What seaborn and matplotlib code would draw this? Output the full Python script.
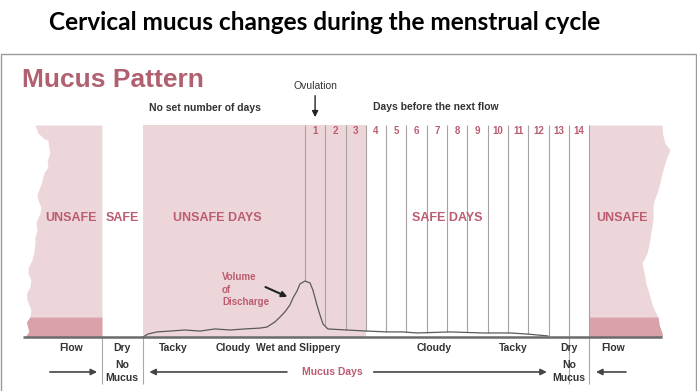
import numpy as np
import pandas as pd
import matplotlib.pyplot as plt
import seaborn as sns

sns.set_style("white")
plt.rcParams['font.family'] = ['Liberation Sans', 'DejaVu Sans']

# x axis: days counted from ovulation (day column k spans k-1..k)
# y axis: volume of discharge, 0 = baseline, 100 = top of chart
days = list(range(1, 15))

curve_day = [-7.98, -7.73, -7.29, -6.65, -5.91, -5.17, -4.43, -3.69, -2.96, -2.22,
             -1.87, -1.48, -1.23, -0.99, -0.74, -0.59, -0.39, -0.25, 0.0, 0.25,
             0.39, 0.59, 0.74, 0.89, 1.13, 2.07, 3.05, 4.04, 4.83, 5.52,
             7.14, 8.77, 10.1, 10.94, 11.97]
curve_vol = [0, 1.4, 2.4, 2.8, 3.3, 2.8, 3.8, 3.3, 3.8, 4.2,
             4.7, 7.1, 9.4, 11.8, 15.1, 18.4, 21.7, 25.0, 26.4, 25.5,
             22.2, 15.1, 10.4, 6.1, 3.8, 3.3, 2.8, 2.4, 2.4, 1.9,
             2.4, 1.9, 1.9, 1.4, 0.5]

phase_labels = ["Flow", "Dry", "Tacky", "Cloudy", "Wet and Slippery",
                "Cloudy", "Tacky", "Dry", "Flow"]
phase_pos = [-11.5, -9.0, -6.5, -3.55, -0.35, 6.35, 10.25, 13.0, 15.2]

zone_labels = ["UNSAFE", "SAFE", "UNSAFE DAYS", "SAFE DAYS", "UNSAFE"]
zone_pos = [-11.5, -9.0, -4.3, 7.0, 15.6]

flow_end, dry_end, unsafe_end, safe_end = -10, -8, 3, 14

# torn paper edges of the flow blocks
edge_vol = [100, 97.5, 96.2, 93.5, 92.9, 89.5, 86.8, 83.0, 80.2, 77.5, 75.5, 72.5, 70.8,
            67.0, 64.6, 61.0, 58.5, 54.0, 50.5, 47.0, 44.3, 40.0, 36.3, 33.0, 30.2,
            27.0, 23.6, 20.5, 17.5, 13.0, 9.4, 7.0, 4.7, 2.5, 0]
left_edge = [-13.3, -13.2, -13.15, -12.85, -12.66, -12.62, -12.56, -12.7, -12.66, -12.85, -12.91, -12.98, -13.05,
             -13.2, -13.15, -13.0, -13.05, -13.25, -13.2, -13.3, -13.3, -13.35, -13.45, -13.62, -13.65,
             -13.5, -13.55, -13.72, -13.69, -13.5, -13.55, -13.72, -13.65, -13.6, -13.79]
right_vol = [100, 95.5, 91.5, 88.2, 84.9, 81.0, 77.4, 72.5, 67.9, 64.5, 61.3, 56.5, 51.9,
             48.5, 45.8, 42.5, 39.6, 37.0, 34.9, 31.5, 28.3, 25.0, 22.2, 18.0, 14.2, 9.4, 5.5, 1.9, 0]
right_edge = [17.59, 17.62, 17.73, 17.98, 17.83, 17.7, 17.59, 17.48, 17.34, 17.2, 17.14, 17.15, 17.09,
              17.02, 16.99, 16.92, 16.85, 16.72, 16.6, 16.68, 16.75, 16.8, 16.9, 17.02, 17.14, 17.39, 17.45, 17.59, 17.6]
band_top = 9.4

pink = '#edd6d9'
band = '#d9a2ab'
rose = '#bb5c70'
ink = '#333333'

df = pd.DataFrame({'day': curve_day, 'volume': curve_vol})

fig = plt.figure(figsize=(6.97, 3.91), dpi=100)
ax = fig.add_axes([0, 0, 1, 1])
ax.set_xlim(-15.02, 19.31)
ax.set_ylim(-25.47, 158.96)
ax.axis('off')

# frame
ax.add_patch(plt.Rectangle((0.001, -0.2), 0.9975, 1.062, transform=ax.transAxes,
                           fill=False, ec='#9a9a9a', lw=1))

# pink blocks
ax.fill_betweenx(edge_vol, left_edge, flow_end, color=pink, lw=0)
ax.fill_betweenx(right_vol, safe_end, right_edge, color=pink, lw=0)
ax.fill_between([dry_end, unsafe_end], 0, 100, color=pink, lw=0)
lv = np.array(edge_vol)
m = lv <= band_top + 0.01
ax.fill_betweenx(lv[m], np.array(left_edge)[m], flow_end, color=band, lw=0)
rv = np.array(right_vol)
m = rv <= band_top + 0.01
ax.fill_betweenx(rv[m], safe_end, np.array(right_edge)[m], color=band, lw=0)

# day column lines, from the curve up to the top
bounds = np.arange(0, 15)
ax.vlines(bounds, np.interp(bounds, curve_day, curve_vol), 100, color='#a8a2a3', lw=0.8)
# lines below the baseline
ax.vlines([flow_end, dry_end, 13, safe_end], -22, 0, color='#a8a8a8', lw=0.8)

# mucus curve and baseline
sns.lineplot(data=df, x='day', y='volume', ax=ax, color='#5a5a5a', lw=0.9,
             sort=False, estimator=None)
ax.hlines(0, -13.9, 17.6, color='#6b6b6b', lw=1.8)

# day numbers
for d in days:
    ax.text(d - 0.5, 97.2, str(d), ha='center', va='center', color=rose,
            fontsize=7, fontweight='bold')

for lab, x in zip(zone_labels, zone_pos):
    ax.text(x, 56.1, lab, ha='center', va='center', color=rose,
            fontsize=9, fontweight='bold')

for lab, x in zip(phase_labels, phase_pos):
    ax.text(x, -5.2, lab, ha='center', va='center', color=ink,
            fontsize=7.5, fontweight='bold')

# headings
fig.text(0.466, 1 - 22 / 391, 'Cervical mucus changes during the menstrual cycle',
         ha='center', va='center', fontsize=17.6, fontweight='bold',
         family=['Lato', 'DejaVu Sans'], color='black')
ax.text(-13.95, 121.2, 'Mucus Pattern', ha='left', va='center', color='#b0606e',
        fontsize=19, fontweight='bold')
ax.text(0.5, 118.4, 'Ovulation', ha='center', va='center', color=ink, fontsize=7.5)
ax.annotate('', xy=(0.5, 102.4), xytext=(0.5, 115.1),
            arrowprops=dict(arrowstyle='-|>', color='#222222', lw=1, mutation_scale=9))
ax.text(-4.93, 108.0, 'No set number of days', ha='center', va='center', color=ink,
        fontsize=7.5, fontweight='bold')
ax.text(6.45, 108.5, 'Days before the next flow', ha='center', va='center', color=ink,
        fontsize=7.5, fontweight='bold')

# volume of discharge label
for txt, v in zip(['Volume', 'of', 'Discharge'], [28.3, 22.2, 16.5]):
    ax.text(-4.09, v, txt, ha='left', va='center', color=rose, fontsize=7, fontweight='bold')
ax.annotate('', xy=(-0.74, 18.4), xytext=(-2.07, 24.1),
            arrowprops=dict(arrowstyle='-|>', color='#222222', lw=1.5, mutation_scale=8))

# bottom arrows
arr = dict(arrowstyle='-|>', color='#444444', lw=1.2, mutation_scale=9)
ax.annotate('', xy=(-10.1, -16.5), xytext=(-12.7, -16.5), arrowprops=arr)
ax.annotate('', xy=(-7.8, -16.5), xytext=(-0.75, -16.5), arrowprops=arr)
ax.annotate('', xy=(12.05, -16.5), xytext=(3.25, -16.5), arrowprops=arr)
ax.annotate('', xy=(14.2, -16.5), xytext=(15.95, -16.5), arrowprops=arr)
ax.text(1.33, -16.5, 'Mucus Days', ha='center', va='center', color=rose,
        fontsize=7.5, fontweight='bold')
for x in [-9.0, 13.0]:
    ax.text(x, -13.2, 'No', ha='center', va='center', color=ink, fontsize=7.5, fontweight='bold')
    ax.text(x, -19.3, 'Mucus', ha='center', va='center', color=ink, fontsize=7.5, fontweight='bold')

fig.savefig('out.png', dpi=100)
